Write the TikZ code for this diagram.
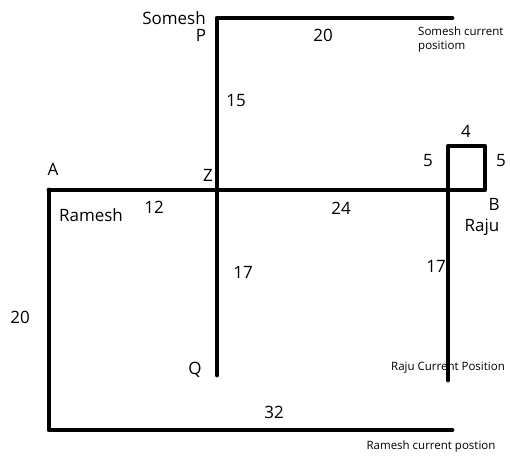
\documentclass[tikz,border=0pt]{standalone}
\usepackage{fontspec}
\setmainfont{Open Sans}
\begin{document}
\begin{tikzpicture}[x=1pt,y=-1pt,
  path/.style={line width=4.8pt, line cap=round, line join=round},
  lbl/.style={font=\fontsize{17}{19}\selectfont, inner sep=0pt},
  note/.style={font=\fontsize{11.5}{14}\selectfont, inner sep=0pt},
]
\useasboundingbox (0,0) rectangle (510,455);
% corner points
\coordinate (P)  at (217,18);
\coordinate (S)  at (452,18);
\coordinate (Q)  at (217,375);
\coordinate (A)  at (49,190);
\coordinate (B)  at (485,190);
\coordinate (C)  at (448,190);
\coordinate (T1) at (448,146);
\coordinate (T2) at (485,146);
\coordinate (R)  at (448,380);
\coordinate (D)  at (49,430);
\coordinate (E)  at (452,430);
% paths
\draw[path] (S) -- (P) -- (Q);
\draw[path] (A) -- (B) -- (T2) -- (T1) -- (R);
\draw[path] (A) -- (D) -- (E);
% labels
\node[lbl] (somesh) at (174,18)  {Somesh};
\node[lbl] (p)      at (201,35)  {P};
\node[lbl] (l20a)   at (323,35)  {20};
\node[note, align=left, anchor=west] (sc) at (418,40) {Somesh current\\positiom};
\node[lbl] (l15)    at (236,101) {15};
\node[lbl] (a)      at (53,169)  {A};
\node[lbl] (z)      at (208,175) {Z};
\node[lbl] (l12)    at (154,207) {12};
\node[lbl] (ramesh) at (91,215)  {Ramesh};
\node[lbl] (l24)    at (341,208) {24};
\node[lbl] (l4)     at (466,131) {4};
\node[lbl] (l5a)    at (428,161) {5};
\node[lbl] (l5b)    at (501,161) {5};
\node[lbl] (b)      at (494,204) {B};
\node[lbl] (raju)   at (482,227) {Raju};
\node[lbl] (l17a)   at (243,272) {17};
\node[lbl] (l17b)   at (436,266) {17};
\node[lbl] (l20b)   at (20,317)  {20};
\node[lbl] (q)      at (195,370) {Q};
\node[note] (rc)    at (448,368) {Raju Current Position};
\node[lbl] (l32)    at (274,412) {32};
\node[note] (mc)    at (431,447) {Ramesh current postion};
\end{tikzpicture}
\end{document}
